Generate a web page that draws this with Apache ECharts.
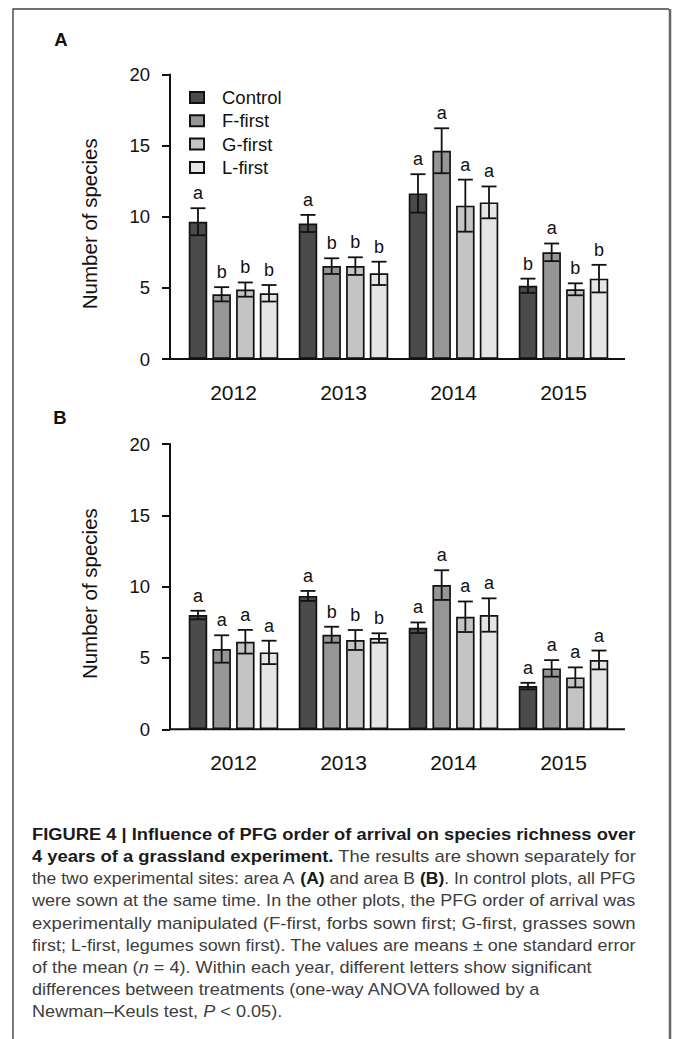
<!DOCTYPE html>
<html><head><meta charset="utf-8">
<script src="https://cdn.jsdelivr.net/npm/echarts@6/dist/echarts.min.js"></script>
<style>html,body{margin:0;padding:0;background:#fff;}#main{width:673px;height:1039px;}</style>
</head><body><div id="main"></div>
<script>
// ---------- data ----------
const years = ['2012', '2013', '2014', '2015'];
const treatments = ['Control', 'F-first', 'G-first', 'L-first'];
const yTickStep = 5;
const yMax = 20;

// Panel A (area A)
const aControl   = [9.65, 9.53, 11.64, 5.15];
const aControlSE = [0.95, 0.60, 1.35, 0.50];
const aFfirst    = [4.55, 6.53, 14.64, 7.50];
const aFfirstSE  = [0.50, 0.55, 1.58, 0.62];
const aGfirst    = [4.88, 6.53, 10.78, 4.90];
const aGfirstSE  = [0.50, 0.62, 1.83, 0.42];
const aLfirst    = [4.62, 6.02, 11.01, 5.65];
const aLfirstSE  = [0.58, 0.82, 1.12, 0.97];
const aControlLetters = ['a', 'a', 'a', 'b'];
const aFfirstLetters  = ['b', 'b', 'a', 'a'];
const aGfirstLetters  = ['b', 'b', 'a', 'b'];
const aLfirstLetters  = ['b', 'b', 'a', 'b'];

// Panel B (area B)
const bControl   = [8.01, 9.35, 7.12, 3.03];
const bControlSE = [0.30, 0.35, 0.37, 0.23];
const bFfirst    = [5.63, 6.63, 10.11, 4.27];
const bFfirstSE  = [0.96, 0.56, 1.04, 0.58];
const bGfirst    = [6.14, 6.26, 7.89, 3.64];
const bGfirstSE  = [0.83, 0.70, 1.07, 0.70];
const bLfirst    = [5.39, 6.40, 8.01, 4.86];
const bLfirstSE  = [0.82, 0.33, 1.17, 0.66];
const bControlLetters = ['a', 'a', 'a', 'a'];
const bFfirstLetters  = ['a', 'b', 'a', 'a'];
const bGfirstLetters  = ['a', 'b', 'a', 'a'];
const bLfirstLetters  = ['a', 'b', 'a', 'a'];

const captionLines = [
  [['b', 'FIGURE 4 | Influence of PFG order of arrival on species richness over']],
  [['b', '4 years of a grassland experiment.'], ['r', ' The results are shown separately for']],
  [['r', 'the two experimental sites: area A '], ['b', '(A)'], ['r', ' and area B '], ['b', '(B)'], ['r', '. In control plots, all PFG']],
  [['r', 'were sown at the same time. In the other plots, the PFG order of arrival was']],
  [['r', 'experimentally manipulated (F-first, forbs sown first; G-first, grasses sown']],
  [['r', 'first; L-first, legumes sown first). The values are means \u00b1 one standard error']],
  [['r', 'of the mean ('], ['i', 'n'], ['r', ' = 4). Within each year, different letters show significant']],
  [['r', 'differences between treatments (one-way ANOVA followed by a']],
  [['r', 'Newman\u2013Keuls test, '], ['i', 'P'], ['r', ' < 0.05).']]
];

// ---------- styling / layout ----------
const FONT = '"Liberation Sans", Arial, sans-serif';
const colors = ['#4b4b4b', '#969696', '#c4c4c4', '#e5e5e5'];
const BAR_W = 18.5;
const BAR_GAP = 0.28;
const STRIDE = BAR_W * (1 + BAR_GAP);
const CAP = 7.5;
const GRID_LEFT = 178.5, GRID_W = 440;
const gridA = { left: GRID_LEFT, top: 74.5, width: GRID_W, height: 284.5 };
const gridB = { left: GRID_LEFT, top: 444, width: GRID_W, height: 285.3 };

const panels = [
  { means: [aControl, aFfirst, aGfirst, aLfirst], ses: [aControlSE, aFfirstSE, aGfirstSE, aLfirstSE],
    letters: [aControlLetters, aFfirstLetters, aGfirstLetters, aLfirstLetters] },
  { means: [bControl, bFfirst, bGfirst, bLfirst], ses: [bControlSE, bFfirstSE, bGfirstSE, bLfirstSE],
    letters: [bControlLetters, bFfirstLetters, bGfirstLetters, bLfirstLetters] }
];

function errRender(means, ses, letters, idx) {
  return function (params, api) {
    const i = params.dataIndex;
    const base = api.coord([i, means[i]]);
    const x = base[0] + (idx - 1.5) * STRIDE;
    const top = api.coord([i, means[i] + ses[i]])[1];
    const bot = api.coord([i, means[i] - ses[i]])[1];
    const ls = { stroke: '#111', lineWidth: 1.8 };
    return {
      type: 'group',
      children: [
        { type: 'line', shape: { x1: x, y1: top, x2: x, y2: bot }, style: ls },
        { type: 'line', shape: { x1: x - CAP, y1: top, x2: x + CAP, y2: top }, style: ls },
        { type: 'line', shape: { x1: x - CAP, y1: bot, x2: x + CAP, y2: bot }, style: ls },
        { type: 'text', style: { text: letters[i], x: x, y: top - 6, align: 'center', verticalAlign: 'bottom',
            fontSize: 18, fontFamily: FONT, fill: '#111' } }
      ]
    };
  };
}

const series = [];
panels.forEach((p, pi) => {
  treatments.forEach((t, ti) => {
    series.push({
      name: t, type: 'bar', xAxisIndex: pi, yAxisIndex: pi,
      data: p.means[ti], barWidth: BAR_W, barGap: (BAR_GAP * 100) + '%',
      itemStyle: { color: colors[ti], borderColor: '#111', borderWidth: 1.7 },
      emphasis: { disabled: true }, z: 2
    });
  });
  treatments.forEach((t, ti) => {
    series.push({
      type: 'custom', xAxisIndex: pi, yAxisIndex: pi, z: 3,
      data: years.map((y, i) => [i, p.means[ti][i] + p.ses[ti][i]]),
      encode: { x: 0, y: 1 },
      renderItem: errRender(p.means[ti], p.ses[ti], p.letters[ti], ti),
      silent: true
    });
  });
});

function makeX(gi) {
  return {
    type: 'category', gridIndex: gi, data: years,
    axisLine: { show: false }, axisTick: { show: false },
    axisLabel: { fontSize: 21, color: '#111', margin: 23, fontFamily: FONT }
  };
}
function makeY(gi) {
  return {
    type: 'value', gridIndex: gi, min: 0, max: yMax, interval: yTickStep, offset: 8.5,
    name: 'Number of species', nameLocation: 'middle', nameGap: 70,
    nameTextStyle: { fontSize: 20.5, color: '#111', fontFamily: FONT, padding: [0, 14, 0, 0] },
    axisLine: { show: true, lineStyle: { color: '#111', width: 2 } },
    axisTick: { show: true, length: 8, lineStyle: { color: '#111', width: 2 } },
    axisLabel: { fontSize: 18.5, color: '#111', margin: 20, fontFamily: FONT },
    splitLine: { show: false }
  };
}

// caption measurement
const ctx = document.createElement('canvas').getContext('2d');
const CAP_SIZE = 17;
function segFont(s) {
  return (s === 'i' ? 'italic ' : '') + (s === 'b' ? 'bold ' : '') + CAP_SIZE + 'px "Liberation Sans"';
}
function lineWidth(line) {
  let w = 0;
  line.forEach(seg => { ctx.font = segFont(seg[0]); w += ctx.measureText(seg[1]).width; });
  return w;
}
const CAP_LEFT = 32, CAP_FULL = 604;
const fullScales = captionLines.slice(0, 6).map(l => CAP_FULL / lineWidth(l));
const meanScale = fullScales.reduce((a, b) => a + b, 0) / fullScales.length;
const CAP_TOP = 834, CAP_STEP = 22.2;
const captionGraphics = captionLines.map((line, li) => ({
  type: 'text', x: CAP_LEFT, y: CAP_TOP + li * CAP_STEP,
  scaleX: li < 6 ? fullScales[li] : meanScale,
  style: {
    text: line.map(s => '{' + s[0] + '|' + s[1] + '}').join(''),
    verticalAlign: 'middle', align: 'left',
    rich: {
      b: { fontSize: CAP_SIZE, fontFamily: FONT, fontWeight: 'bold', fill: '#1a1a1a' },
      r: { fontSize: CAP_SIZE, fontFamily: FONT, fill: '#3d3d3d' },
      i: { fontSize: CAP_SIZE, fontFamily: FONT, fontStyle: 'italic', fill: '#3d3d3d' }
    }
  }
}));

const option = {
  animation: false,
  textStyle: { fontFamily: FONT },
  grid: [gridA, gridB],
  xAxis: [makeX(0), makeX(1)],
  yAxis: [makeY(0), makeY(1)],
  legend: {
    data: treatments, orient: 'vertical', left: 189, top: 87.5, padding: 0,
    itemWidth: 14, itemHeight: 11, itemGap: 3.3, icon: 'rect', selectedMode: false,
    textStyle: { fontSize: 18.5, color: '#111', fontFamily: FONT, lineHeight: 20, padding: [0, 0, 0, 13] }
  },
  series: series,
  graphic: [
    { type: 'polyline', shape: { points: [[13, 1045], [13, 9], [669, 9]] }, style: { stroke: '#444', lineWidth: 1.4, fill: null } },
    { type: 'line', shape: { x1: 670, y1: 9, x2: 670, y2: 1045 }, style: { stroke: '#666', lineWidth: 2.5 } },
    { type: 'line', shape: { x1: 169, y1: gridA.top + gridA.height, x2: 625, y2: gridA.top + gridA.height }, style: { stroke: '#111', lineWidth: 2 } },
    { type: 'line', shape: { x1: 169, y1: gridB.top + gridB.height, x2: 625, y2: gridB.top + gridB.height }, style: { stroke: '#111', lineWidth: 2 } },
    { type: 'text', x: 61, y: 39, style: { text: 'A', fontSize: 18.5, fontWeight: 'bold', fontFamily: FONT, fill: '#111', align: 'center', verticalAlign: 'middle' } },
    { type: 'text', x: 60, y: 417, style: { text: 'B', fontSize: 18.5, fontWeight: 'bold', fontFamily: FONT, fill: '#111', align: 'center', verticalAlign: 'middle' } }
  ].concat(captionGraphics)
};

const chart = echarts.init(document.getElementById('main'), null, { renderer: 'svg' });
chart.setOption(option);
</script>
</body></html>
